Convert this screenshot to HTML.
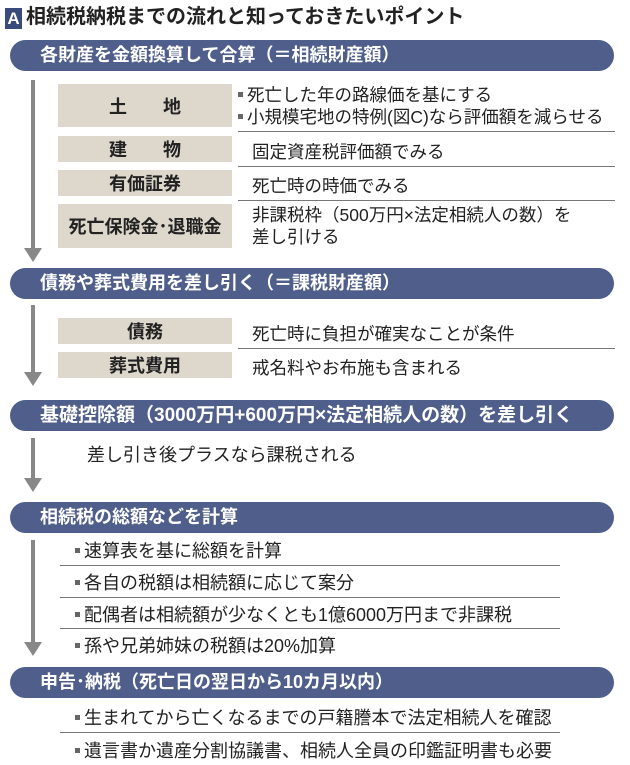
<!DOCTYPE html>
<html><head><meta charset="utf-8"><style>
body{margin:0;width:630px;height:765px;background:#fff;position:relative;overflow:hidden;font-family:"Liberation Sans","Noto Sans CJK JP",sans-serif;color:#222}
.a{position:absolute;white-space:nowrap}
.bar{position:absolute;left:10px;width:604px;height:31px;border-radius:16px;background:#4f5e8a;color:#fff;font-weight:bold;font-size:18px;line-height:31px;box-sizing:border-box;padding-left:30px;white-space:nowrap}
.lb{position:absolute;left:58px;width:174px;background:#ddd7cc;font-weight:bold;font-size:18px;display:flex;align-items:center;justify-content:center}
.t{position:absolute;font-size:17.5px;white-space:nowrap}
.u{font-size:18px}
.ln{position:absolute;height:1px;background:#777}
.ar{position:absolute;left:31px;width:4px;background:#888}
.ah{position:absolute;left:24px;width:0;height:0;border-left:9px solid transparent;border-right:9px solid transparent;border-top:14px solid #888}
.sq{display:inline-block;width:5px;height:5px;background:#666;vertical-align:middle;margin-right:4px;position:relative;top:-2px}
</style></head><body>
<div class="a" style="left:5px;top:8px;width:17px;height:21px;background:#3a4a7a;color:#fff;font-weight:bold;font-size:17px;line-height:21px;text-align:center">A</div>
<div class="a" style="left:26px;top:5px;font-size:20px;font-weight:bold;line-height:25px">相続税納税までの流れと知っておきたいポイント</div>

<div class="bar" style="top:40px">各財産を金額換算して合算（＝相続財産額）</div>
<div class="ar" style="top:80px;height:170px"></div><div class="ah" style="top:248px"></div>
<div class="lb" style="top:84px;height:43px">土　　地</div>
<div class="lb" style="top:136px;height:26px">建　　物</div>
<div class="lb" style="top:170px;height:26px">有価証券</div>
<div class="lb" style="top:204px;height:44px">死亡保険金･退職金</div>
<div class="t" style="left:238px;top:84px;line-height:22px"><span class="sq"></span>死亡した年の路線価を基にする<br><span class="sq"></span>小規模宅地の特例(図C)なら評価額を減らせる</div>
<div class="ln" style="left:238px;width:377px;top:131px"></div>
<div class="t" style="left:252px;top:139px">固定資産税評価額でみる</div>
<div class="ln" style="left:238px;width:377px;top:166px"></div>
<div class="t" style="left:252px;top:173px">死亡時の時価でみる</div>
<div class="ln" style="left:238px;width:377px;top:200px"></div>
<div class="t" style="left:252px;top:204px;line-height:22px">非課税枠（500万円×法定相続人の数）を<br>差し引ける</div>

<div class="bar" style="top:268px">債務や葬式費用を差し引く（＝課税財産額）</div>
<div class="ar" style="top:305px;height:68px"></div><div class="ah" style="top:372px"></div>
<div class="lb" style="top:318px;height:26px">債務</div>
<div class="lb" style="top:352px;height:26px">葬式費用</div>
<div class="t" style="left:252px;top:321px">死亡時に負担が確実なことが条件</div>
<div class="ln" style="left:238px;width:377px;top:348px"></div>
<div class="t" style="left:252px;top:355px">戒名料やお布施も含まれる</div>

<div class="bar" style="top:400px;font-size:19px">基礎控除額（3000万円+600万円×法定相続人の数）を差し引く</div>
<div class="ar" style="top:438px;height:42px"></div><div class="ah" style="top:478px"></div>
<div class="t u" style="left:87px;top:441px">差し引き後プラスなら課税される</div>

<div class="bar" style="top:502px">相続税の総額などを計算</div>
<div class="ar" style="top:540px;height:104px"></div><div class="ah" style="top:642px"></div>
<div class="t u" style="left:75px;top:537px"><span class="sq"></span>速算表を基に総額を計算</div>
<div class="ln" style="left:60px;width:500px;top:565px"></div>
<div class="t u" style="left:75px;top:569px"><span class="sq"></span>各自の税額は相続額に応じて案分</div>
<div class="ln" style="left:60px;width:500px;top:597px"></div>
<div class="t u" style="left:75px;top:601px"><span class="sq"></span>配偶者は相続額が少なくとも1億6000万円まで非課税</div>
<div class="ln" style="left:60px;width:500px;top:628px"></div>
<div class="t u" style="left:75px;top:632px"><span class="sq"></span>孫や兄弟姉妹の税額は20%加算</div>

<div class="bar" style="top:667px">申告･納税（死亡日の翌日から10カ月以内）</div>
<div class="t u" style="left:75px;top:704px"><span class="sq"></span>生まれてから亡くなるまでの戸籍謄本で法定相続人を確認</div>
<div class="ln" style="left:60px;width:500px;top:732px"></div>
<div class="t u" style="left:75px;top:737px"><span class="sq"></span>遺言書か遺産分割協議書、相続人全員の印鑑証明書も必要</div>
</body></html>
